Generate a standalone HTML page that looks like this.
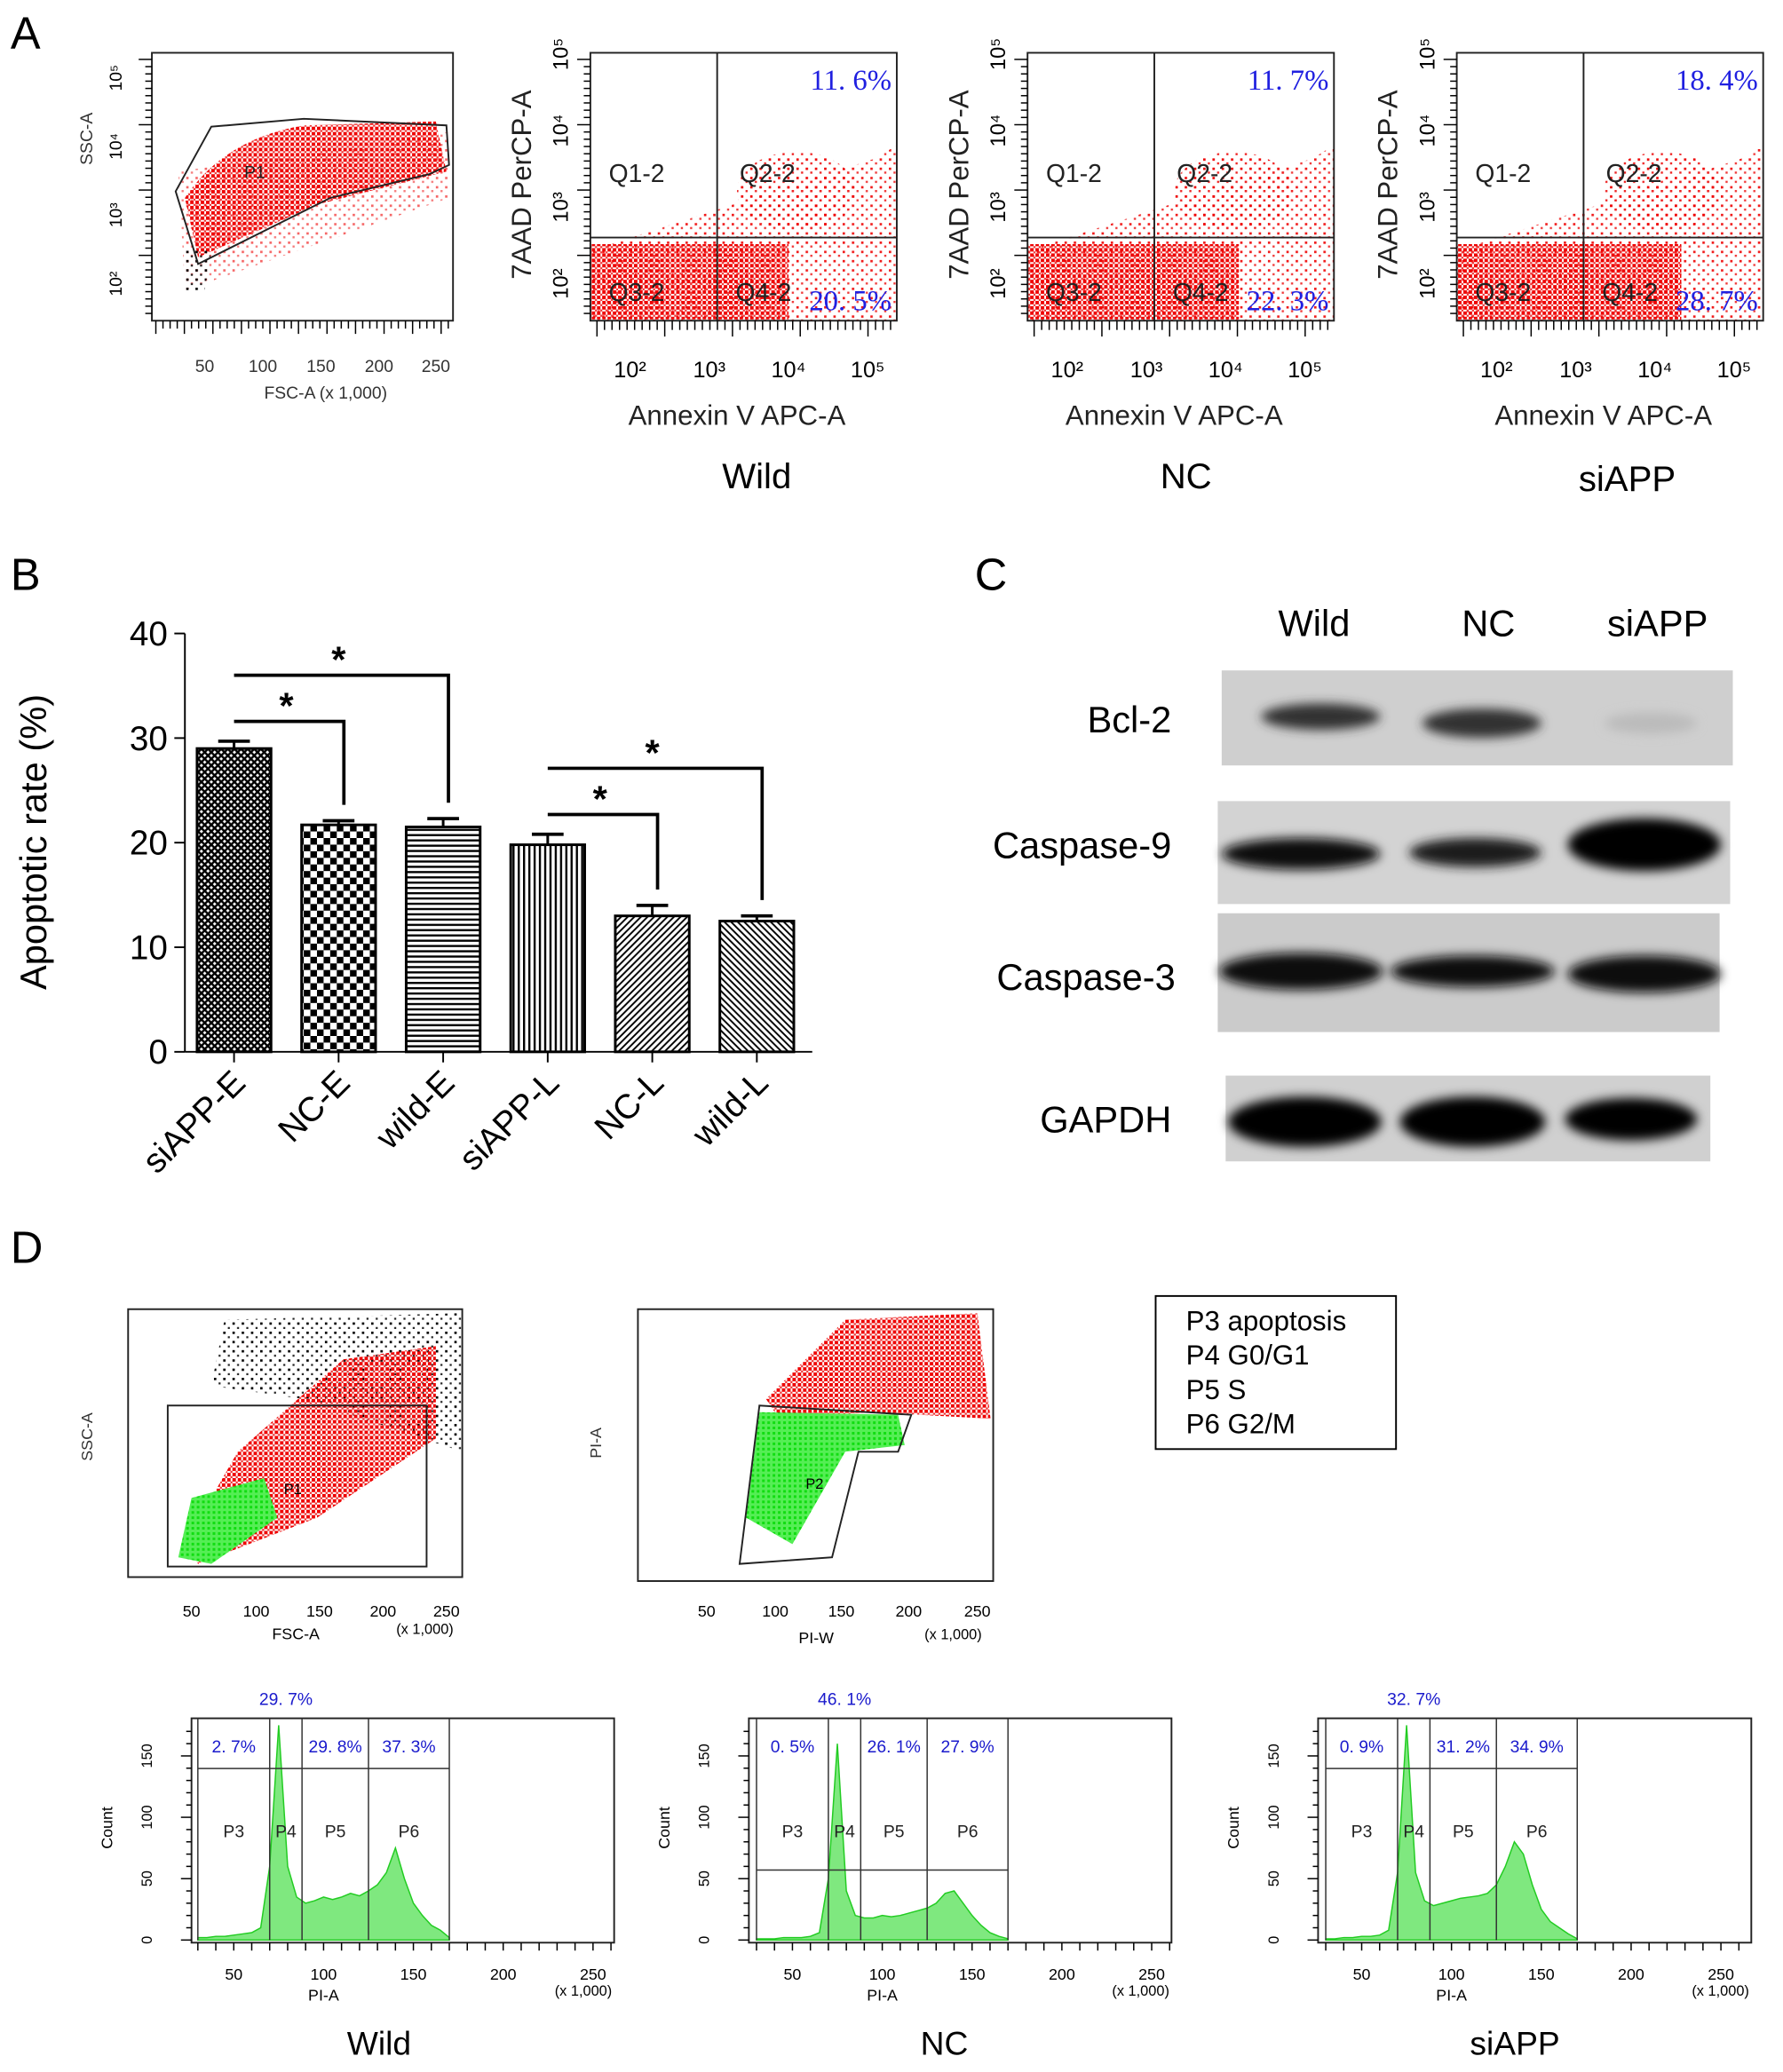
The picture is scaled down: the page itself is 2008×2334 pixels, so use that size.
<!DOCTYPE html>
<html><head><meta charset="utf-8">
<style>
html,body{margin:0;padding:0;background:#fff;}
svg{display:block;font-family:"Liberation Sans",Arial,sans-serif;}
.ax{stroke:#000;fill:none;stroke-width:1.3}
.fr{stroke:#222;fill:none;stroke-width:1.3}
.sm{font-size:13px;fill:#333}
.bl{fill:#2020e0;font-family:"Liberation Serif",serif;font-size:22px}
</style></head>
<body>
<svg id="fig" width="2008" height="2334" viewBox="0 0 1350 1570" preserveAspectRatio="none">
<defs>
<pattern id="rd" width="4" height="4" patternUnits="userSpaceOnUse"><rect x="0" y="0" width="2.6" height="2.6" fill="#e00"/><rect x="2.5" y="2.5" width="1.5" height="1.5" fill="#e33"/></pattern>
<pattern id="rds" width="7" height="7" patternUnits="userSpaceOnUse"><rect x="1" y="1" width="1.8" height="1.8" fill="#e00"/><rect x="4.5" y="4" width="1.6" height="1.6" fill="#e22"/></pattern>
<pattern id="kd" width="7" height="7" patternUnits="userSpaceOnUse"><rect x="1" y="1" width="1.8" height="1.8" fill="#000"/><rect x="4.5" y="4.5" width="1.5" height="1.5" fill="#222"/></pattern>
<pattern id="gd" width="4" height="4" patternUnits="userSpaceOnUse"><rect width="4" height="4" fill="#5e5"/><rect x="1" y="1" width="2" height="2" fill="#1d1"/></pattern>
<pattern id="p0" width="5" height="5" patternUnits="userSpaceOnUse"><rect width="5" height="5" fill="#fff"/><path d="M0 0L5 5M5 0L0 5" stroke="#000" stroke-width="1.6"/></pattern>
<pattern id="p1" width="10" height="10" patternUnits="userSpaceOnUse"><rect width="10" height="10" fill="#fff"/><rect width="5" height="5" fill="#000"/><rect x="5" y="5" width="5" height="5" fill="#000"/></pattern>
<pattern id="p2" width="4" height="4" patternUnits="userSpaceOnUse"><rect width="4" height="4" fill="#fff"/><rect width="4" height="1.6" fill="#000"/></pattern>
<pattern id="p3" width="4" height="4" patternUnits="userSpaceOnUse"><rect width="4" height="4" fill="#fff"/><rect width="1.6" height="4" fill="#000"/></pattern>
<pattern id="p4" width="5" height="5" patternUnits="userSpaceOnUse"><rect width="5" height="5" fill="#fff"/><path d="M0 5L5 0M-1 1L1 -1M4 6L6 4" stroke="#000" stroke-width="1.3"/></pattern>
<pattern id="p5" width="5" height="5" patternUnits="userSpaceOnUse"><rect width="5" height="5" fill="#fff"/><path d="M0 0L5 5M-1 4L1 6M4 -1L6 1" stroke="#000" stroke-width="1.3"/></pattern>
<filter id="bl2"><feGaussianBlur stdDeviation="4"/></filter>
</defs>

<text x="8" y="37" font-size="34">A</text>
<text x="8" y="447" font-size="34">B</text>
<text x="738" y="447" font-size="34">C</text>
<text x="8" y="957" font-size="34">D</text>

<g id="plot1">
<path d="M140 150 Q170 105 230 95 L330 92 L338 130 L240 155 L150 195 Z" fill="url(#rd)"/>
<path d="M135 130 L340 100 L340 150 L140 220 Z" fill="url(#rds)" opacity="0.6"/>
<path d="M140 190 L160 190 L155 220 L140 220Z" fill="url(#kd)"/>
<path d="M133 145 L160 96 L230 90 L338 95 L340 125 L325 132 L250 150 L150 200 Z" class="fr" stroke-width="1"/>
<text x="185" y="135" font-size="13" fill="#222">P1</text>
<rect x="115" y="40" width="228" height="203" class="fr"/>
<text x="90" y="145" class="sm" transform="rotate(-90 70 145)">SSC-A</text>
<text x="155" y="282" class="sm" text-anchor="middle">50</text>
<text x="199" y="282" class="sm" text-anchor="middle">100</text>
<text x="243" y="282" class="sm" text-anchor="middle">150</text>
<text x="287" y="282" class="sm" text-anchor="middle">200</text>
<text x="330" y="282" class="sm" text-anchor="middle">250</text>
<text x="200" y="302" class="sm">FSC-A   (x 1,000)</text>
</g>

<g id="annexin"></g>

<text x="573" y="370" font-size="27" text-anchor="middle">Wild</text>
<text x="898" y="370" font-size="27" text-anchor="middle">NC</text>
<text x="1232" y="372" font-size="27" text-anchor="middle">siAPP</text>

<g id="barchart"></g>

<g>
<text x="995" y="482" font-size="28" text-anchor="middle">Wild</text>
<text x="1127" y="482" font-size="28" text-anchor="middle">NC</text>
<text x="1255" y="482" font-size="28" text-anchor="middle">siAPP</text>
<rect x="925" y="508" width="387" height="72" fill="#cfcfcf"/>
<rect x="922" y="607" width="388" height="78" fill="#d3d3d3"/>
<rect x="922" y="692" width="380" height="90" fill="#cbcbcb"/>
<rect x="928" y="815" width="367" height="65" fill="#d0d0d0"/>
<g filter="url(#bl2)">
<ellipse cx="1000" cy="543" rx="45" ry="10" fill="#333"/>
<ellipse cx="1122" cy="548" rx="45" ry="11" fill="#333"/>
<ellipse cx="1250" cy="548" rx="35" ry="8" fill="#bbb"/>
<ellipse cx="985" cy="647" rx="60" ry="12" fill="#111"/>
<ellipse cx="1117" cy="646" rx="50" ry="11" fill="#1a1a1a"/>
<ellipse cx="1245" cy="640" rx="58" ry="20" fill="#000"/>
<ellipse cx="985" cy="736" rx="62" ry="14" fill="#111"/>
<ellipse cx="1115" cy="736" rx="62" ry="12" fill="#111"/>
<ellipse cx="1245" cy="738" rx="58" ry="14" fill="#111"/>
<ellipse cx="988" cy="850" rx="58" ry="19" fill="#000"/>
<ellipse cx="1115" cy="850" rx="55" ry="19" fill="#000"/>
<ellipse cx="1235" cy="848" rx="50" ry="16" fill="#000"/>
</g>
<text x="887" y="555" font-size="28" text-anchor="end">Bcl-2</text>
<text x="887" y="650" font-size="28" text-anchor="end">Caspase-9</text>
<text x="890" y="750" font-size="28" text-anchor="end">Caspase-3</text>
<text x="887" y="858" font-size="28" text-anchor="end">GAPDH</text>
</g>

<g>
<path d="M170 1000 L350 995 L350 1100 L230 1060 L160 1050 Z" fill="url(#kd)"/>
<path d="M140 1170 L180 1100 L260 1030 L330 1020 L330 1090 L240 1150 L150 1185 Z" fill="url(#rd)"/>
<path d="M135 1180 L145 1135 L200 1120 L210 1150 L160 1185 Z" fill="url(#gd)"/>
<rect x="127" y="1065" width="196" height="122" class="fr" stroke-width="1"/>
<text x="215" y="1132" font-size="11">P1</text>
<rect x="97" y="992" width="253" height="203" class="fr"/>
<text x="63" y="1100" font-size="12" fill="#333" transform="rotate(-90 70 1100)">SSC-A</text>
<text x="145" y="1225" font-size="12" text-anchor="middle">50</text><text x="194" y="1225" font-size="12" text-anchor="middle">100</text><text x="242" y="1225" font-size="12" text-anchor="middle">150</text><text x="290" y="1225" font-size="12" text-anchor="middle">200</text><text x="338" y="1225" font-size="12" text-anchor="middle">250</text>
<text x="224" y="1242" font-size="12" text-anchor="middle">FSC-A</text><text x="300" y="1238" font-size="11">(x 1,000)</text>
</g>
<g>
<path d="M580 1060 L640 1000 L740 995 L750 1075 L660 1070 L590 1075 Z" fill="url(#rd)"/>
<path d="M565 1150 L575 1070 L680 1072 L685 1095 L640 1100 L600 1170 Z" fill="url(#gd)"/>
<path d="M560 1185 L575 1065 L690 1072 L680 1100 L650 1100 L630 1180 Z" class="fr" stroke-width="1"/>
<text x="610" y="1128" font-size="11">P2</text>
<rect x="483" y="992" width="269" height="206" class="fr"/>
<text x="450" y="1100" font-size="12" fill="#333" transform="rotate(-90 455 1100)">PI-A</text>
<text x="535" y="1225" font-size="12" text-anchor="middle">50</text><text x="587" y="1225" font-size="12" text-anchor="middle">100</text><text x="637" y="1225" font-size="12" text-anchor="middle">150</text><text x="688" y="1225" font-size="12" text-anchor="middle">200</text><text x="740" y="1225" font-size="12" text-anchor="middle">250</text>
<text x="618" y="1245" font-size="12" text-anchor="middle">PI-W</text><text x="700" y="1242" font-size="11">(x 1,000)</text>
</g>
<g>
<rect x="875" y="982" width="182" height="116" fill="#fff" stroke="#000" stroke-width="1.3"/>
<text x="898" y="1008" font-size="21">P3 apoptosis</text>
<text x="898" y="1034" font-size="21">P4 G0/G1</text>
<text x="898" y="1060" font-size="21">P5 S</text>
<text x="898" y="1086" font-size="21">P6 G2/M</text>
</g>
<g id="hists"></g>
<text x="287" y="1557" font-size="25" text-anchor="middle">Wild</text>
<text x="715" y="1557" font-size="25" text-anchor="middle">NC</text>
<text x="1147" y="1557" font-size="25" text-anchor="middle">siAPP</text>
</svg>

<script>
const NS='http://www.w3.org/2000/svg';
function mk(p,tag,attrs,txt){const e=document.createElementNS(NS,tag);for(const k in attrs)e.setAttribute(k,attrs[k]);if(txt!==undefined)e.textContent=txt;p.appendChild(e);return e;}

const categories=['siAPP-E','NC-E','wild-E','siAPP-L','NC-L','wild-L'];
const rates=[29,21.7,21.5,19.8,13,12.5];
const errors=[0.7,0.4,0.8,1.0,1.0,0.5];
const yTicks=[0,10,20,30,40];
const sigPairs=[[0,2,1],[0,1,0],[3,5,1],[3,4,0]];

const bc=document.getElementById('barchart');
const x0=140,x1=615,yBase=797,yTop=480,yMax=40;
const ys=v=>yBase-(v/yMax)*(yBase-yTop);
const step=(x1-x0)/categories.length;
const xs=i=>x0+step*(i+0.47);
mk(bc,'line',{x1:x0,y1:yTop,x2:x0,y2:yBase,class:'ax','stroke-width':2});
mk(bc,'line',{x1:x0,y1:yBase,x2:x1,y2:yBase,class:'ax','stroke-width':2});
yTicks.forEach(t=>{
  mk(bc,'line',{x1:x0-8,y1:ys(t),x2:x0,y2:ys(t),class:'ax','stroke-width':2});
  const tx=mk(bc,'text',{x:x0-13,y:ys(t)+9,'font-size':26,'text-anchor':'end'},t);
  
  
});
const yl=mk(bc,'text',{x:0,y:0,'font-size':28,'text-anchor':'middle',transform:'translate(35,638) rotate(-90)'},'Apoptotic rate (%)');


categories.forEach((c,i)=>{
  const cx=xs(i),w=56;
  mk(bc,'line',{x1:cx,y1:ys(rates[i]+errors[i]),x2:cx,y2:ys(rates[i]),stroke:'#000','stroke-width':2});
  mk(bc,'line',{x1:cx-12,y1:ys(rates[i]+errors[i]),x2:cx+12,y2:ys(rates[i]+errors[i]),stroke:'#000','stroke-width':2.5});
  const r=mk(bc,'rect',{x:cx-w/2,y:ys(rates[i]),width:w,height:yBase-ys(rates[i]),fill:'url(#p'+i+')',stroke:'#000','stroke-width':2});
  
  
  mk(bc,'line',{x1:cx,y1:yBase,x2:cx,y2:yBase+8,class:'ax','stroke-width':2});
  const t=mk(bc,'text',{x:0,y:0,'font-size':26,'text-anchor':'end',transform:`translate(${cx+10},${yBase+25}) rotate(-45)`},c);
  
  
});
sigPairs.forEach(p=>{
  const a=p[0],b=p[1],lvl=p[2];
  const yb=ys(rates[a]+errors[a])-15-lvl*35;
  const yl2=ys(rates[b]+errors[b])-12;
  mk(bc,'path',{d:`M${xs(a)} ${yb} L${xs(b)+4} ${yb} L${xs(b)+4} ${yl2}`,fill:'none',stroke:'#000','stroke-width':2.5});
  const s=mk(bc,'text',{x:(xs(a)+xs(b))/2,y:yb-2,'font-size':28,'text-anchor':'middle','font-weight':'bold'},'*');
  
  
});

// plot1 ticks
const p1=document.getElementById('plot1');
for(let k=0;k<42;k++){const x=118+k*5.4;mk(p1,'line',{x1:x,y1:243,x2:x,y2:243+(k%4==0?10:6),stroke:'#000'});}
for(let k=0;k<36;k++){const y=45+k*5.5;mk(p1,'line',{x1:115,y1:y,x2:115-(k%9==0?10:5),y2:y,stroke:'#000'});}
['10²','10³','10⁴','10⁵'].forEach((t,j)=>mk(p1,'text',{x:0,y:0,'font-size':13,'text-anchor':'middle',transform:`translate(${92},${215-j*52}) rotate(-90)`},t));

const annexLeft=[447,778,1103];
const q2Pct=['11.6%','11.7%','18.4%'];
const q4Pct=['20.5%','22.3%','28.7%'];
const an=document.getElementById('annexin');
annexLeft.forEach((L,i)=>{
  const g=mk(an,'g',{});
  
  
  const W=232,T=40,B=243,vx=L+96,hy=180;
  mk(g,'path',{d:`M${L} ${hy+10} L${vx+120} ${hy-60} L${L+W} ${hy-70} L${L+W} ${B} L${L} ${B}Z`,fill:'url(#rds)',opacity:0.9});
  mk(g,'rect',{x:L,y:hy+5,width:150+i*10,height:B-hy-6,fill:'url(#rd)'});
  mk(g,'ellipse',{cx:vx+60,cy:hy-35,rx:45,ry:30,fill:'url(#rds)'});
  mk(g,'rect',{x:L,y:T,width:W,height:B-T,class:'fr'});
  mk(g,'line',{x1:vx,y1:T,x2:vx,y2:B,class:'fr'});
  mk(g,'line',{x1:L,y1:hy,x2:L+W,y2:hy,class:'fr'});
  mk(g,'text',{x:L+14,y:138,'font-size':19,fill:'#222'},'Q1-2');
  mk(g,'text',{x:vx+17,y:138,'font-size':19,fill:'#222'},'Q2-2');
  mk(g,'text',{x:L+14,y:228,'font-size':19,fill:'#222'},'Q3-2');
  mk(g,'text',{x:vx+14,y:228,'font-size':19,fill:'#222'},'Q4-2');
  mk(g,'text',{x:L+W-4,y:68,'text-anchor':'end',class:'bl'},q2Pct[i].replace('.','. '));
  mk(g,'text',{x:L+W-4,y:235,'text-anchor':'end',class:'bl'},q4Pct[i].replace('.','. '));
  for(let k=0;k<40;k++){const x=L+5+k*5.7;mk(g,'line',{x1:x,y1:B,x2:x,y2:B+(k%9==0?12:7),stroke:'#000'});}
  for(let k=0;k<36;k++){const y=T+5+k*5.5;mk(g,'line',{x1:L,y1:y,x2:L-(k%9==0?10:5),y2:y,stroke:'#000'});}
  ['10²','10³','10⁴','10⁵'].forEach((t,j)=>mk(g,'text',{x:0,y:0,'font-size':16,'text-anchor':'middle',transform:`translate(${L-17},${215-j*58}) rotate(-90)`},t));
  ['10²','10³','10⁴','10⁵'].forEach((t,j)=>mk(g,'text',{x:L+30+j*60,y:B+43,'font-size':17,'text-anchor':'middle'},t));
  mk(g,'text',{x:L+W/2-5,y:322,'font-size':21,'text-anchor':'middle',fill:'#222'},'Annexin V APC-A');
  mk(g,'text',{x:0,y:0,'font-size':21,'text-anchor':'middle',fill:'#222',transform:`translate(${L-45},140) rotate(-90)`},'7AAD PerCP-A');
});

const histBins=[30,35,40,45,50,55,60,65,70,75,80,85,90,95,100,105,110,115,120,125,130,135,140,145,150,155,160,165,170];
const countsWild=[2,2,3,3,4,5,6,10,60,175,60,35,30,32,35,33,35,38,36,40,45,55,75,50,30,20,12,8,2];
const countsNC=[1,1,1,2,2,2,3,6,50,160,40,20,18,18,20,19,20,22,24,26,30,38,40,30,20,12,6,3,1];
const countsSi=[1,1,2,2,3,3,4,8,55,175,55,32,28,30,32,34,35,36,38,45,60,80,70,45,25,15,10,5,1];
const hPct=[['2.7%','29.7%','29.8%','37.3%'],['0.5%','46.1%','26.1%','27.9%'],['0.9%','32.7%','31.2%','34.9%']];
const gates=[30,70,88,125,170];
const histSets=[countsWild,countsNC,countsSi];
const histOrigin=[109,532,963];
const histFrame=[[145,465],[567,887],[998,1326]];
const hg=document.getElementById('hists');
const hx=(i,v)=>histOrigin[i]+v*1.36;
const hyF=c=>1470-c*0.93;
histSets.forEach((cnt,i)=>{
  const g=mk(hg,'g',{});
  
  
  const [fl,fr]=histFrame[i];
  let d=`M${hx(i,histBins[0])} 1470`;
  histBins.forEach((b,k)=>{d+=` L${hx(i,b)} ${Math.max(1302,hyF(cnt[k]))}`;});
  d+=` L${hx(i,histBins[histBins.length-1])} 1470Z`;
  mk(g,'path',{d,fill:'#7fe87f',stroke:'#2c2','stroke-width':1});
  mk(g,'rect',{x:fl,y:1302,width:fr-fl,height:170,class:'fr',stroke:'#333'});
  const gy=i==1?1417:1340;
  gates.forEach(v=>mk(g,'line',{x1:hx(i,v),y1:1302,x2:hx(i,v),y2:1470,stroke:'#333'}));
  mk(g,'line',{x1:hx(i,gates[0]),y1:gy,x2:hx(i,gates[4]),y2:gy,stroke:'#333'});
  const mids=[(gates[0]+gates[1])/2,(gates[1]+gates[2])/2,(gates[2]+gates[3])/2,(gates[3]+gates[4])/2];
  ['P3','P4','P5','P6'].forEach((p,k)=>mk(g,'text',{x:hx(i,mids[k]),y:1392,'font-size':13,'text-anchor':'middle',fill:'#222'},p));
  [0,2,3].forEach(k=>mk(g,'text',{x:hx(i,mids[k]),y:1328,'font-size':13,'text-anchor':'middle',fill:'#1a1acc'},hPct[i][k].replace('.','. ')));
  mk(g,'text',{x:hx(i,mids[1]),y:1292,'font-size':13,'text-anchor':'middle',fill:'#1a1acc'},hPct[i][1].replace('.','. '));
  [50,100,150,200,250].forEach(v=>mk(g,'text',{x:hx(i,v),y:1500,'font-size':12,'text-anchor':'middle'},v));
  for(let v=0;v<=260;v+=10){if(hx(i,v)>=fl&&hx(i,v)<=fr)mk(g,'line',{x1:hx(i,v),y1:1472,x2:hx(i,v),y2:1478,stroke:'#000'});}
  for(let c=0;c<=175;c+=10){mk(g,'line',{x1:fl,y1:hyF(c),x2:fl-(c%50==0?8:4),y2:hyF(c),stroke:'#000'});}
  mk(g,'text',{x:hx(i,100),y:1516,'font-size':12,'text-anchor':'middle'},'PI-A');
  mk(g,'text',{x:fr-45,y:1512,'font-size':11},'(x 1,000)');
  mk(g,'text',{x:0,y:0,'font-size':12,'text-anchor':'middle',transform:`translate(${fl-60},1385) rotate(-90)`},'Count');
  [0,50,100,150].forEach(c=>mk(g,'text',{x:0,y:0,'font-size':11,'text-anchor':'middle',transform:`translate(${fl-30},${hyF(c)}) rotate(-90)`},c));
});
</script>
</body></html>
